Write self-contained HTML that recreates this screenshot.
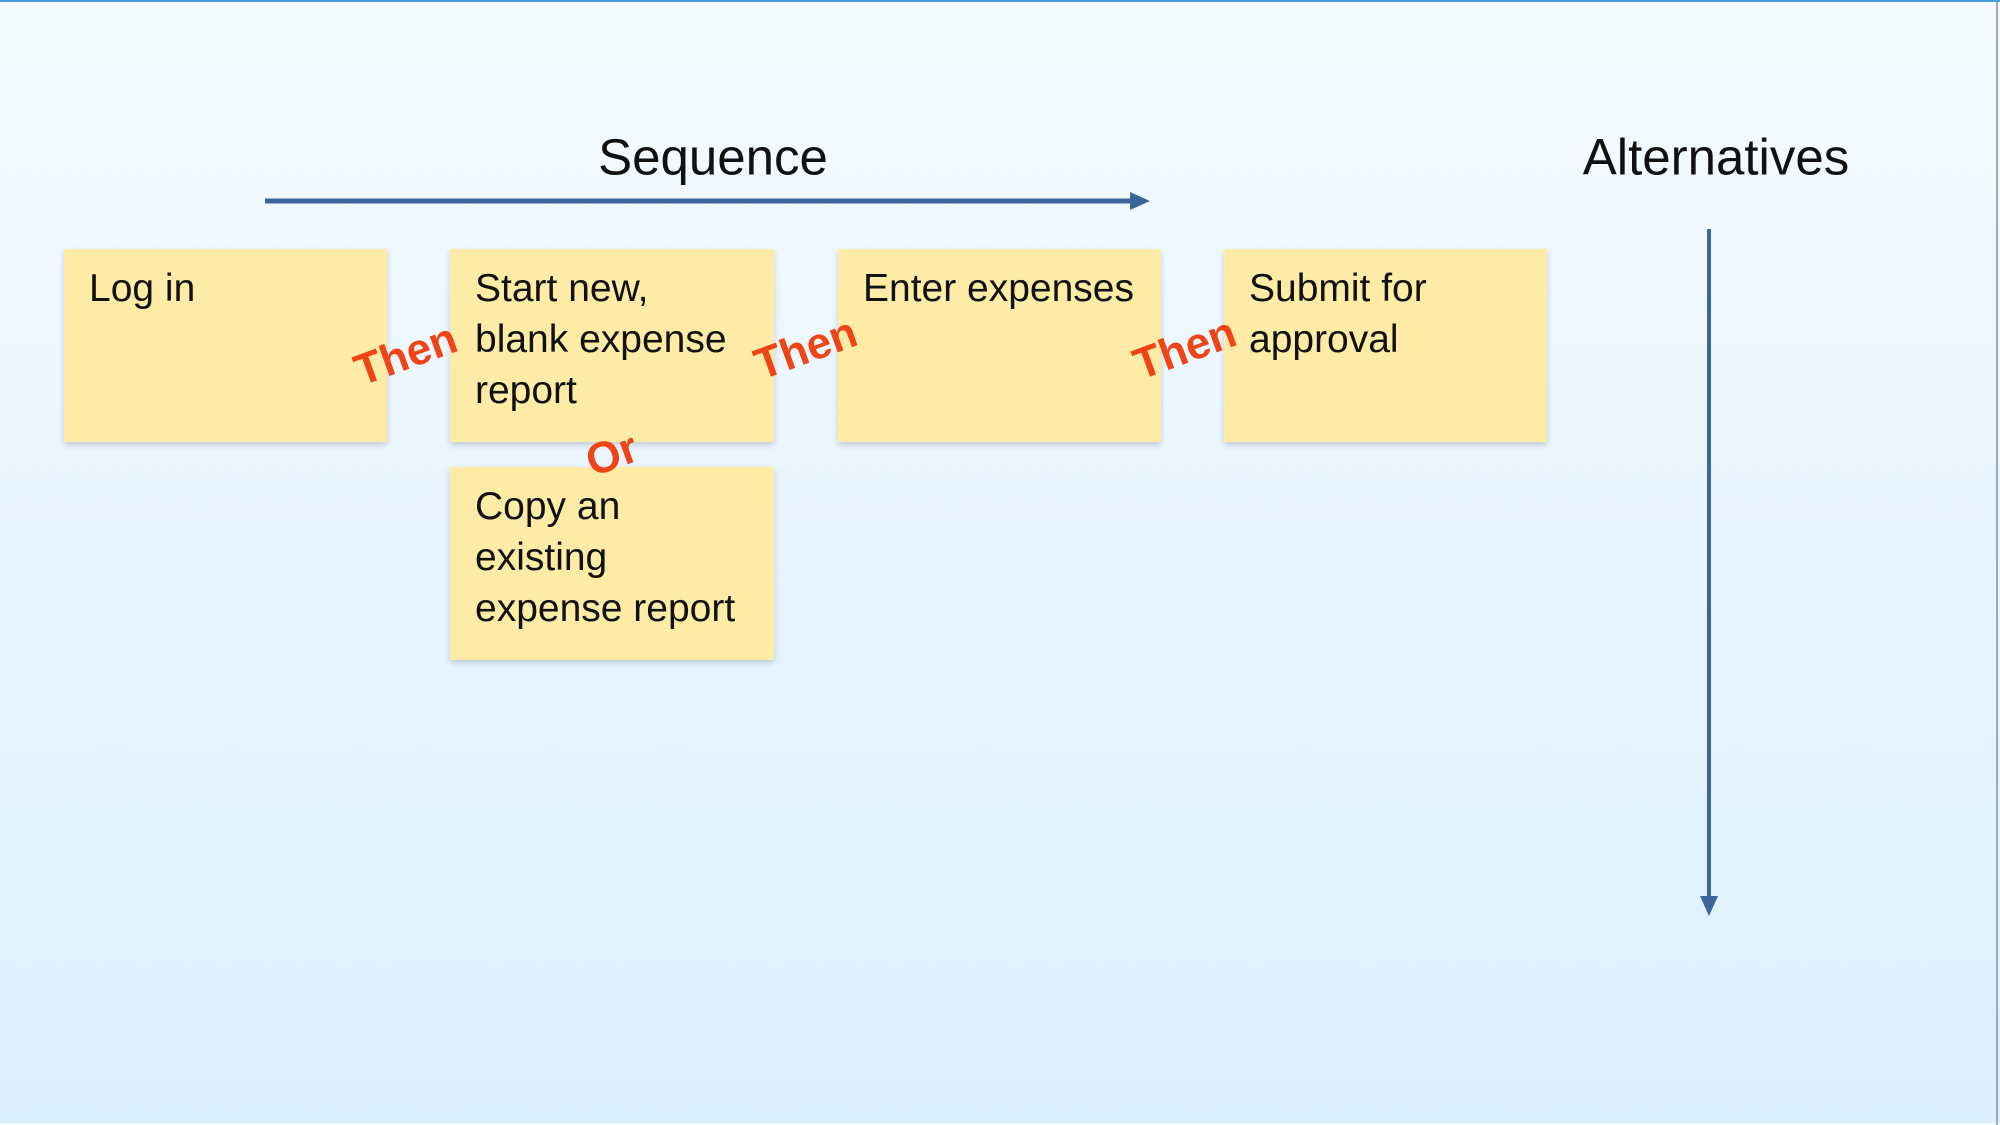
<!DOCTYPE html>
<html><head><meta charset="utf-8"><style>
html,body{margin:0;padding:0}
body{width:2000px;height:1123px;position:relative;overflow:hidden;background:linear-gradient(#f5fbff,#dcefff);font-family:"Liberation Sans","DejaVu Sans",sans-serif;border-top:2px solid #4a9ee0;box-sizing:border-box}
.t{position:absolute;font-size:51px;color:#111;transform:translate(-50%,-50%);white-space:nowrap}
.n{position:absolute;background:#fdeba6;box-shadow:0 3px 6px rgba(0,0,0,.18);box-sizing:border-box;padding:14px 25px;font-size:39px;line-height:51px;color:#111}
.r{position:absolute;color:#ee4416;font-weight:bold;font-size:44px;transform:translate(-50%,-50%) rotate(-20deg);white-space:nowrap}
</style></head><body>
<div class="t" style="left:713px;top:155px">Sequence</div>
<div class="t" style="left:1716px;top:155px">Alternatives</div>
<svg width="2000" height="1123" style="position:absolute;left:0;top:0">
<line x1="265" y1="199" x2="1135" y2="199" stroke="#3b6699" stroke-width="5"/>
<polygon points="1150,199 1130,190 1130,208" fill="#3b6699"/>
<line x1="1709" y1="227" x2="1709" y2="898" stroke="#3b6699" stroke-width="4"/>
<polygon points="1709,914 1700,894 1718,894" fill="#3b6699"/>
<line x1="1997" y1="0" x2="1997" y2="1123" stroke="#9ab" stroke-width="2"/>
</svg>
<div class="n" style="left:64px;top:247px;width:323px;height:193px">Log in</div>
<div class="n" style="left:450px;top:247px;width:324px;height:193px">Start new,<br>blank expense<br>report</div>
<div class="n" style="left:838px;top:247px;width:323px;height:193px">Enter expenses</div>
<div class="n" style="left:1224px;top:247px;width:323px;height:193px">Submit for<br>approval</div>
<div class="n" style="left:450px;top:465px;width:324px;height:193px">Copy an<br>existing<br>expense report</div>
<div class="r" style="left:406px;top:353px">Then</div>
<div class="r" style="left:806px;top:347px">Then</div>
<div class="r" style="left:1185px;top:347px">Then</div>
<div class="r" style="left:612px;top:453px">Or</div>
</body></html>
